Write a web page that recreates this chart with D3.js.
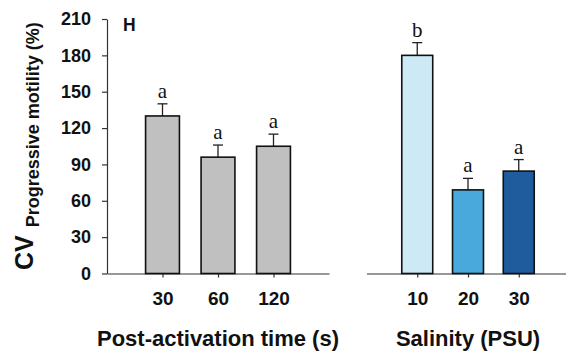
<!DOCTYPE html>
<html>
<head>
<meta charset="utf-8">
<script src="https://cdn.jsdelivr.net/npm/d3@7"></script>
<style>
  html, body { margin: 0; padding: 0; background: #fff; }
  svg { display: block; }
</style>
</head>
<body>
<svg id="chart" width="566" height="358"></svg>
<script>
// CV of progressive motility: post-activation time and salinity groups
const timeCategories = ["30", "60", "120"];
const timeValues = [130, 96, 105];
const timeErrors = [10, 10, 10];
const timeLetters = ["a", "a", "a"];

const salinityCategories = ["10", "20", "30"];
const salinityValues = [180, 69, 84.5];
const salinityErrors = [10.5, 9.5, 9.5];
const salinityLetters = ["b", "a", "a"];
const salinityColors = ["#cde9f6", "#4aa9dc", "#1f5c9e"];

const yTicks = [0, 30, 60, 90, 120, 150, 180, 210];

const svg = d3.select("#chart");
const sans = "'Liberation Sans', Arial, sans-serif";
const serif = "'Liberation Serif', 'Times New Roman', serif";

const y = d3.scaleLinear().domain([0, 210]).range([273.5, 19]);

const xLeft = d3.scaleLinear().domain([0, 4]).range([107, 329]);
const xRight = d3.scaleLinear().domain([0, 4]).range([366.5, 569.5]);

// Y axis (left panel only)
const yAxis = d3.axisLeft(y).tickValues(yTicks).tickSize(5).tickPadding(11).tickSizeOuter(0);
const gy = svg.append("g").attr("transform", "translate(107,0)").call(yAxis);
gy.select(".domain").attr("stroke", "#333").attr("stroke-width", 1.2);
gy.selectAll(".tick line").attr("stroke", "#333").attr("stroke-width", 1.2);
gy.selectAll(".tick text")
  .attr("font-family", sans).attr("font-weight", "bold").attr("font-size", 18)
  .attr("fill", "#111");

function panel(x, cats, vals, errs, letters, colors, title) {
  const step = x(1) - x(0);
  const bw = step * 0.61;
  const g = svg.append("g");

  // baseline with category ticks
  const ax = d3.axisBottom(x).tickValues([1, 2, 3])
    .tickFormat((d, i) => cats[i]).tickSize(4).tickPadding(14).tickSizeOuter(0);
  const gx = g.append("g").attr("transform", `translate(0,${y(0)})`).call(ax);
  gx.select(".domain").attr("stroke", "#333").attr("stroke-width", 1.2);
  gx.selectAll(".tick line").attr("stroke", "#333").attr("stroke-width", 1.2);
  gx.selectAll(".tick text")
    .attr("font-family", sans).attr("font-weight", "bold").attr("font-size", 19)
    .attr("fill", "#111");

  const data = vals.map((v, i) => ({ i, v, e: errs[i], l: letters[i], c: colors[i] }));

  // error bars (upper only)
  g.selectAll("line.err").data(data).enter().append("line")
    .attr("x1", d => x(d.i + 1)).attr("x2", d => x(d.i + 1))
    .attr("y1", d => y(d.v)).attr("y2", d => y(d.v + d.e))
    .attr("stroke", "#222").attr("stroke-width", 1.3);
  g.selectAll("line.cap").data(data).enter().append("line")
    .attr("x1", d => x(d.i + 1) - 5).attr("x2", d => x(d.i + 1) + 5)
    .attr("y1", d => y(d.v + d.e)).attr("y2", d => y(d.v + d.e))
    .attr("stroke", "#222").attr("stroke-width", 1.3);

  // bars
  g.selectAll("rect").data(data).enter().append("rect")
    .attr("x", d => x(d.i + 1) - bw / 2)
    .attr("y", d => y(d.v))
    .attr("width", bw)
    .attr("height", d => y(0) - y(d.v))
    .attr("fill", d => d.c)
    .attr("stroke", "#111").attr("stroke-width", 1.6);

  // significance letters
  g.selectAll("text.sig").data(data).enter().append("text")
    .attr("x", d => x(d.i + 1)).attr("y", d => y(d.v + d.e) - 6)
    .attr("text-anchor", "middle")
    .attr("font-family", serif).attr("font-size", 21).attr("fill", "#111")
    .text(d => d.l);

  // axis title
  g.append("text")
    .attr("x", x(2)).attr("y", 346)
    .attr("text-anchor", "middle")
    .attr("font-family", sans).attr("font-weight", "bold").attr("font-size", 22)
    .attr("fill", "#111")
    .text(title);
}

panel(xLeft, timeCategories, timeValues, timeErrors, timeLetters,
      ["#c0c0c0", "#c0c0c0", "#c0c0c0"], "Post-activation time (s)");
panel(xRight, salinityCategories, salinityValues, salinityErrors, salinityLetters,
      salinityColors, "Salinity (PSU)");

// panel letter
svg.append("text").attr("x", 123).attr("y", 30.5)
  .attr("font-family", sans).attr("font-weight", "bold").attr("font-size", 17.5)
  .attr("fill", "#111").text("H");

// Y axis title with subscript
const yt = svg.append("text")
  .attr("transform", "translate(33,270) rotate(-90)")
  .attr("font-family", sans).attr("font-weight", "bold").attr("fill", "#111");
yt.append("tspan").attr("font-size", 25).text("CV");
yt.append("tspan").attr("font-size", 18).attr("dx", 8).attr("dy", 6)
  .text("Progressive motility (%)");
</script>
</body>
</html>
